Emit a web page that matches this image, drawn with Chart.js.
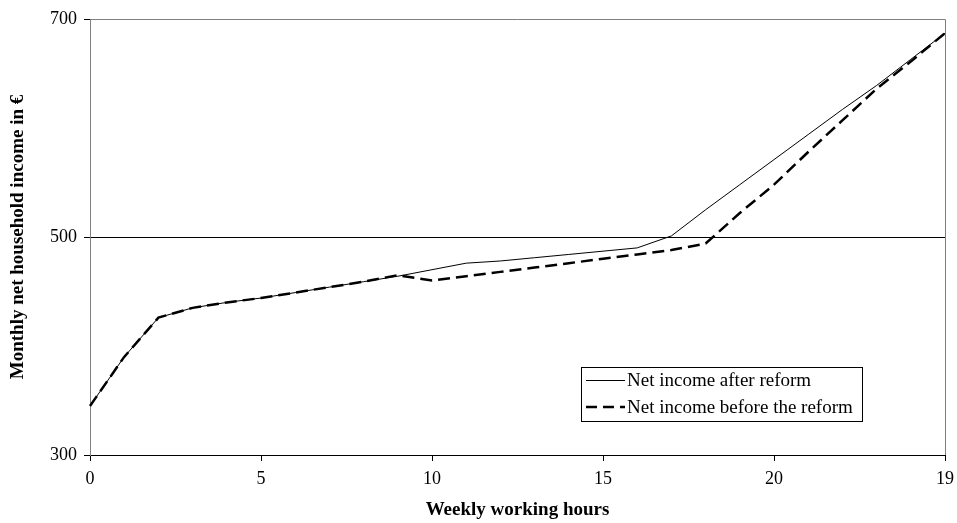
<!DOCTYPE html>
<html>
<head>
<meta charset="utf-8">
<script src="https://cdn.jsdelivr.net/npm/chart.js@4"></script>
<style>
  html, body { margin: 0; padding: 0; background: #fff; }
  #wrap { width: 957px; height: 523px; position: relative; }
</style>
</head>
<body>
<div id="wrap"><canvas id="myChart"></canvas></div>
<script>
// hours 0..24, the last category is labelled "19" in the original
var hours = ['0','1','2','3','4','5','6','7','8','9','10','11','12','13','14','15','16','17','18','19','20','21','22','23','24','19'];
var afterReform = [345, 390, 426, 435, 440, 444, 449, 454, 459, 464, 470, 476, 478, 481, 484, 487, 490, 501, 525, 548, 571, 594, 617, 639, 663, 687];
var beforeReform = [345, 390, 426, 435, 440, 444, 449, 454, 459, 465, 460, 464, 468, 472, 476, 480, 484, 488, 494, 522, 548, 578, 607, 636, 661, 687];
var yTicks = [300, 500, 700];

var serif = '"Liberation Serif", "DejaVu Serif", serif';

// legend box inside the plot + frame lines
var framePlugin = {
    id: 'frame',
    afterDatasetsDraw: function(chart) {
        var c = chart.ctx, a = chart.chartArea;
        c.save();
        c.strokeStyle = '#808080';
        c.lineWidth = 1;
        c.beginPath();
        c.moveTo(a.left, a.top + 0.5);
        c.lineTo(a.right + 0.5, a.top + 0.5);
        c.lineTo(a.right + 0.5, a.bottom);
        c.stroke();

        // legend
        var bx = 581, by = 367, bw = 281, bh = 54;
        c.fillStyle = '#fff';
        c.fillRect(bx, by, bw, bh);
        c.strokeStyle = '#000';
        c.strokeRect(bx + 0.5, by + 0.5, bw, bh);
        c.font = '19px ' + serif;
        c.fillStyle = '#000';
        c.textBaseline = 'middle';
        c.beginPath();
        c.lineWidth = 1;
        c.moveTo(586, 380.5);
        c.lineTo(625, 380.5);
        c.stroke();
        c.fillText('Net income after reform', 627, 381);
        c.beginPath();
        c.lineWidth = 2.5;
        c.setLineDash([11, 6]);
        c.moveTo(586, 407);
        c.lineTo(625, 407);
        c.stroke();
        c.setLineDash([]);
        c.fillText('Net income before the reform', 627, 408);
        c.restore();
    }
};

var ctx = document.getElementById('myChart');
var myChart = new Chart(ctx.getContext('2d'), {
    type: 'line',
    data: {
        labels: hours,
        datasets: [{
            label: 'Net income after reform',
            data: afterReform,
            borderColor: '#000',
            borderWidth: 1,
            pointRadius: 0,
            tension: 0
        }, {
            label: 'Net income before the reform',
            data: beforeReform,
            borderColor: '#000',
            borderWidth: 2.5,
            borderDash: [12, 6],
            pointRadius: 0,
            tension: 0
        }]
    },
    options: {
        responsive: true,
        maintainAspectRatio: false,
        animation: false,
        layout: { padding: { top: 19, right: 0, left: 0, bottom: 0 } },
        plugins: {
            legend: { display: false },
            tooltip: { enabled: false }
        },
        scales: {
            x: {
                offset: false,
                afterFit: function(axis) {
                    axis.height = 68;
                    axis.paddingRight = 12;
                    axis.paddingLeft = 0;
                },
                border: { color: '#000', width: 1 },
                grid: {
                    drawOnChartArea: false,
                    drawTicks: true,
                    tickLength: 6,
                    color: '#000'
                },
                ticks: {
                    autoSkip: false,
                    maxRotation: 0,
                    color: '#000',
                    font: { family: serif, size: 18 },
                    padding: 7,
                    callback: function(v, i) {
                        return i % 5 === 0 ? hours[i] : null;
                    }
                },
                title: {
                    display: true,
                    text: 'Weekly working hours',
                    color: '#000',
                    font: { family: serif, size: 19, weight: 'bold' },
                    padding: { top: 2, bottom: 2 }
                }
            },
            y: {
                min: 300,
                max: 700,
                afterFit: function(axis) { axis.width = 90; },
                afterBuildTicks: function(axis) {
                    axis.ticks = yTicks.map(function(v) { return { value: v }; });
                },
                border: { color: '#808080', width: 1 },
                grid: {
                    tickLength: 6,
                    color: function(c) { return c.tick && c.tick.value === 500 ? '#000' : 'rgba(0,0,0,0)'; },
                    tickColor: '#000'
                },
                ticks: {
                    color: '#000',
                    font: { family: serif, size: 18 },
                    padding: 7
                },
                title: {
                    display: true,
                    text: 'Monthly net household income in €',
                    color: '#000',
                    font: { family: serif, size: 19, weight: 'bold' },
                    padding: { top: 7, bottom: 6 }
                }
            }
        }
    },
    plugins: [framePlugin]
});
</script>
</body>
</html>
